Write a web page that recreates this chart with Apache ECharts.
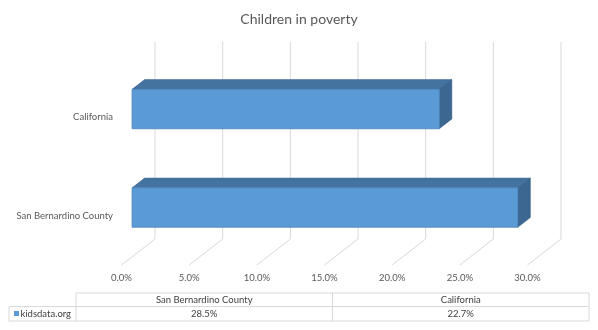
<!DOCTYPE html>
<html>
<head>
<meta charset="utf-8">
<script src="https://cdn.jsdelivr.net/npm/echarts@6/dist/echarts.min.js"></script>
<style>
  html, body { margin: 0; padding: 0; background: #fff; }
  #chart { width: 598px; height: 330px; }
</style>
</head>
<body>
<div id="chart"></div>
<script>
// Chart content
const chartTitle = 'Children in poverty';
const seriesName = 'kidsdata.org';
const categories = ['San Bernardino County', 'California'];
const values = [28.5, 22.7];
const tickValues = [0, 5, 10, 15, 20, 25, 30];

// 3D look: offsets from the front floor edge back to the wall
const DEPTH = { dx: 33.5, dy: -26 };
const BAR_FRONT = 0.315;  // fraction of depth where the bar's front face sits
const BAR_BACK = 0.69;    // fraction of depth where the bar's back face sits

const FONT = 'Lato, "Open Sans", sans-serif';
const TEXT_COLOR = '#595959';
const GRID_COLOR = '#D9D9D9';

const chart = echarts.init(document.getElementById('chart'), null, { renderer: 'canvas' });

// Back wall gridlines plus the floor lines running to the front edge
function renderWall(params, api) {
  const cs = params.coordSys;
  const v = api.value(0);
  const x = api.coord([v, 0])[0];
  const bottom = cs.y + cs.height;
  const top = cs.y;
  const style = { stroke: GRID_COLOR, lineWidth: 1 };
  return {
    type: 'group',
    children: [
      { type: 'line', shape: { x1: x + DEPTH.dx, y1: top + DEPTH.dy, x2: x + DEPTH.dx, y2: bottom + DEPTH.dy }, style },
      { type: 'line', shape: { x1: x + DEPTH.dx, y1: bottom + DEPTH.dy, x2: x, y2: bottom }, style }
    ]
  };
}

// Box-shaped bars: front face, top face, right side face
function renderBar(params, api) {
  const idx = api.value(0);
  const val = api.value(1);
  const p0 = api.coord([0, idx]);
  const p1 = api.coord([val, idx]);
  const band = api.size([0, 1])[1];
  const h = band * 0.4;
  const fx = DEPTH.dx * BAR_FRONT, fy = DEPTH.dy * BAR_FRONT;
  const bx = DEPTH.dx * BAR_BACK, by = DEPTH.dy * BAR_BACK;
  const xl = p0[0], xr = p1[0];
  const yt = p0[1] - h / 2, yb = p0[1] + h / 2;
  const edge = '#4A83BE';
  return {
    type: 'group',
    children: [
      {
        type: 'polygon',
        shape: { points: [[xl + fx, yt + fy], [xr + fx, yt + fy], [xr + bx, yt + by], [xl + bx, yt + by]] },
        style: { fill: '#44739F', stroke: '#3F6C97', lineWidth: 0.6 }
      },
      {
        type: 'polygon',
        shape: { points: [[xr + fx, yt + fy], [xr + bx, yt + by], [xr + bx, yb + by], [xr + fx, yb + fy]] },
        style: { fill: '#3B6790', stroke: '#365F86', lineWidth: 0.6 }
      },
      {
        type: 'rect',
        shape: { x: xl + fx, y: yt + fy, width: xr - xl, height: h },
        style: { fill: '#5B9BD5', stroke: edge, lineWidth: 0.8 }
      }
    ]
  };
}

// Data table under the plot
const table = { left: 9, keyCol: 76, right: 589, top: 293, mid: 306.5, bottom: 321 };
function buildTable() {
  const els = [];
  const ls = { stroke: GRID_COLOR, lineWidth: 1 };
  const line = (x1, y1, x2, y2) => els.push({ type: 'line', shape: { x1, y1, x2, y2 }, style: ls, silent: true });
  const colW = (table.right - table.keyCol) / categories.length;
  line(table.keyCol, table.top, table.right, table.top);
  line(table.left, table.mid, table.right, table.mid);
  line(table.left, table.bottom, table.right, table.bottom);
  line(table.left, table.mid, table.left, table.bottom);
  for (let i = 0; i <= categories.length; i++) {
    const x = table.keyCol + colW * i;
    line(x, table.top, x, table.bottom);
  }
  const ts = { fontFamily: FONT, fontSize: 9.5, fill: '#404040', verticalAlign: 'middle' };
  categories.forEach((c, i) => {
    const cx = table.keyCol + colW * (i + 0.5);
    els.push({ type: 'text', x: cx, y: (table.top + table.mid) / 2, style: Object.assign({ text: c, align: 'center' }, ts) });
    els.push({ type: 'text', x: cx, y: (table.mid + table.bottom) / 2, style: Object.assign({ text: values[i].toFixed(1) + '%', align: 'center' }, ts) });
  });
  els.push({ type: 'rect', shape: { x: 14, y: 311, width: 5, height: 5 }, style: { fill: '#5B9BD5' } });
  els.push({ type: 'text', x: 20.5, y: (table.mid + table.bottom) / 2, style: Object.assign({ text: seriesName, align: 'left' }, ts) });
  return els;
}

const option = {
  animation: false,
  backgroundColor: '#fff',
  title: {
    text: chartTitle,
    left: 'center',
    top: 7,
    textStyle: { fontFamily: FONT, fontSize: 14, fontWeight: 'normal', color: TEXT_COLOR }
  },
  grid: { left: 121.5, top: 68, width: 406, height: 197, containLabel: false },
  xAxis: {
    type: 'value',
    min: 0,
    max: 30,
    interval: 5,
    axisLine: { show: false },
    axisTick: { show: false },
    splitLine: { show: false },
    axisLabel: {
      margin: 8,
      fontFamily: FONT,
      fontSize: 9.5,
      color: TEXT_COLOR,
      formatter: v => v.toFixed(1) + '%'
    }
  },
  yAxis: {
    type: 'category',
    data: categories,
    axisLine: { show: false },
    axisTick: { show: false },
    splitLine: { show: false },
    axisLabel: { margin: 8.5, fontFamily: FONT, fontSize: 9.5, color: TEXT_COLOR }
  },
  series: [
    {
      type: 'custom',
      name: 'wall',
      silent: true,
      z: 1,
      data: tickValues.map(v => [v]),
      encode: { x: 0 },
      renderItem: renderWall
    },
    {
      type: 'custom',
      name: seriesName,
      z: 2,
      data: values.map((v, i) => [i, v]),
      encode: { x: 1, y: 0 },
      renderItem: renderBar
    }
  ],
  graphic: buildTable()
};

chart.setOption(option);
</script>
</body>
</html>
